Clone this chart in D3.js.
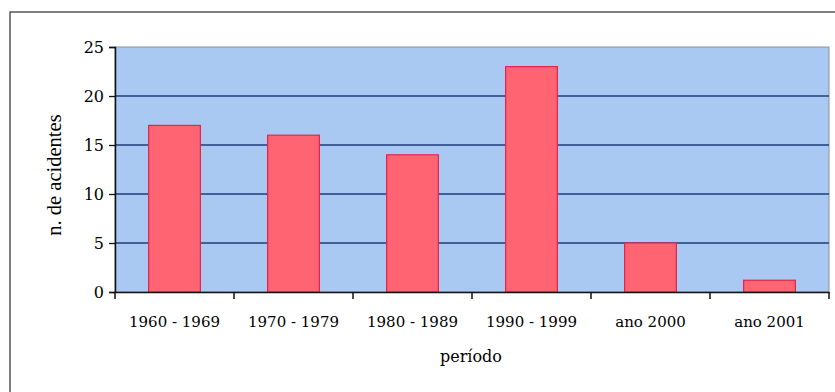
<!DOCTYPE html>
<html><head><meta charset="utf-8">
<script src="https://cdn.jsdelivr.net/npm/d3@7"></script>
<style>body{margin:0;background:#fff}svg{display:block}</style>
</head><body>
<svg id="c" width="835" height="392"></svg>
<script>
const categories = ["1960 - 1969","1970 - 1979","1980 - 1989","1990 - 1999","ano 2000","ano 2001"];
const values = [17,16,14,23,5,1.2];
const yTicks = [0,5,10,15,20,25];
const xTitle = "período";
const yTitle = "n. de acidentes";

const svg = d3.select("#c");
const L = 115, R = 829, T = 47, B = 292;

// outer chart border
svg.append("rect").attr("x",10).attr("y",12).attr("width",840).attr("height",400)
  .attr("fill","#fff").attr("stroke","#555").attr("stroke-width",1.5);

const x = d3.scaleBand().domain(categories).range([L,R]).paddingInner(0.565).paddingOuter(0.2825);
const xb = d3.scaleBand().domain(categories).range([L,R]);
const y = d3.scaleLinear().domain([0,25]).range([B,T]);

// plot background
svg.append("rect").attr("x",L).attr("y",T).attr("width",R-L).attr("height",B-T)
  .attr("fill","#a9c9f2").attr("stroke","#8a8f99").attr("stroke-width",1);

// gridlines
svg.append("g").selectAll("line").data(yTicks.filter(d=>d>0&&d<25)).join("line")
  .attr("x1",L).attr("x2",R).attr("y1",d=>y(d)).attr("y2",d=>y(d))
  .attr("stroke","#1d3d7a").attr("stroke-width",1.3);

// bars
svg.append("g").selectAll("rect").data(values).join("rect")
  .attr("x",(d,i)=>x(categories[i])).attr("width",x.bandwidth())
  .attr("y",d=>y(d)).attr("height",d=>y(0)-y(d))
  .attr("fill","#ff6473").attr("stroke","#e3234a").attr("stroke-width",1.2);

// y axis
const yAxis = d3.axisLeft(y).tickValues(yTicks).tickSize(6).tickPadding(5);
const gy = svg.append("g").attr("transform",`translate(${L},0)`).call(yAxis);
gy.select(".domain").attr("stroke","#111").attr("stroke-width",1.5);
gy.selectAll(".tick line").attr("stroke","#111").attr("stroke-width",1.3);
gy.selectAll(".tick text").attr("font-family","DejaVu Serif").attr("font-size",16).attr("fill","#000");

// x axis
const xAxis = d3.axisBottom(xb).tickSize(0).tickPadding(0);
const gx = svg.append("g").attr("transform",`translate(0,${B})`).call(xAxis);
gx.select(".domain").attr("stroke","#111").attr("stroke-width",1.5);
gx.selectAll(".tick text").attr("font-family","DejaVu Serif").attr("font-size",15).attr("fill","#000")
  .attr("dy",null).attr("y",35);
// category boundary ticks
const bounds = categories.map(c=>xb(c)).concat([R]);
svg.append("g").selectAll("line").data(bounds).join("line")
  .attr("x1",d=>d).attr("x2",d=>d).attr("y1",B).attr("y2",B+7)
  .attr("stroke","#111").attr("stroke-width",1.5);

// titles
svg.append("text").attr("x",(L+R)/2-1).attr("y",362).attr("text-anchor","middle")
  .attr("font-family","DejaVu Serif").attr("font-size",16).attr("fill","#000").text(xTitle);
svg.append("text").attr("transform","translate(61,175) rotate(-90)").attr("text-anchor","middle")
  .attr("font-family","Liberation Serif").attr("font-size",20.5).attr("fill","#000").text(yTitle);
</script>
</body></html>
